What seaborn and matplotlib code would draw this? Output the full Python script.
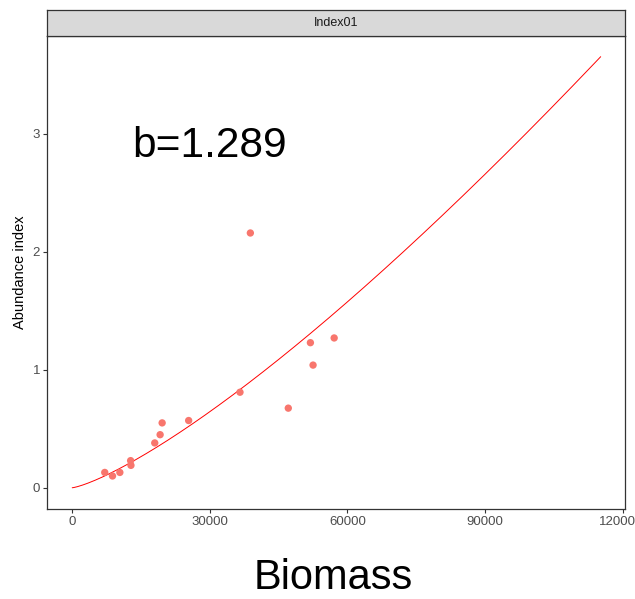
import numpy as np
import pandas as pd
import matplotlib
matplotlib.use("Agg")
import matplotlib.pyplot as plt
from matplotlib.transforms import ScaledTranslation
import seaborn as sns

# Observed survey points
biomass = [7090, 8780, 10380, 12730, 12800, 17990, 19160, 19600, 25380,
           36570, 38830, 47100, 51920, 52500, 57100]
abundance = [0.13, 0.10, 0.13, 0.23, 0.19, 0.38, 0.45, 0.55, 0.57,
             0.81, 2.16, 0.675, 1.23, 1.04, 1.27]

# Power-law fit: index = a * biomass^b
a_coef = 1.093e-6
b_coef = 1.289
x_max = 115200

x_ticks = [0, 30000, 60000, 90000, 120000]
x_ticklabels = ["0", "30000", "60000", "90000", "12000"]
y_ticks = [0, 1, 2, 3]
panel_label = "Index01"

pts = pd.DataFrame({"biomass": biomass, "abundance": abundance})
xfit = np.linspace(0, x_max, 300)
fit = pd.DataFrame({"biomass": xfit, "abundance": a_coef * xfit ** b_coef})

sns.set_theme(style="white")
plt.rcParams["font.family"] = ["Liberation Sans", "DejaVu Sans"]

fig = plt.figure(figsize=(6.35, 5.99), dpi=100)
W, H = 635, 599
left, right, bottom, top = 47, 625, 509, 36
ax = fig.add_axes([left / W, 1 - bottom / H, (right - left) / W, (bottom - top) / H])

sns.lineplot(data=fit, x="biomass", y="abundance", ax=ax, color="#FF0000",
             linewidth=0.7)
sns.scatterplot(data=pts, x="biomass", y="abundance", ax=ax, color="#F8766D",
                s=28, edgecolor="none", zorder=3)

ax.set_xlim(-5500, 120500)
ax.set_ylim(-0.18, 3.83)
ax.set_xticks(x_ticks)
ax.set_xticklabels(x_ticklabels)
ax.set_yticks(y_ticks)
ax.tick_params(axis="both", which="both", length=3, width=0.8, color="#333333",
               labelsize=9.5, labelcolor="#4D4D4D", pad=2, direction="out",
               bottom=True, left=True)
# the last x label sits a little left of its tick so it stays inside the figure
last = ax.get_xticklabels()[-1]
last.set_transform(last.get_transform() + ScaledTranslation(-5 / 100, 0, fig.dpi_scale_trans))

for sp in ax.spines.values():
    sp.set_color("#333333")
    sp.set_linewidth(0.9)
ax.set_xlabel("")
ax.set_ylabel("Abundance index", fontsize=10.5, color="black", labelpad=4)

ax.text(13000, 2.9, f"b={b_coef}", fontsize=30.5, color="black", va="center",
        ha="left")

# Facet strip
strip_top = 10
sax = fig.add_axes([left / W, 1 - top / H, (right - left) / W, (top - strip_top) / H])
sax.set_xticks([])
sax.set_yticks([])
sax.set_facecolor("#D9D9D9")
for sp in sax.spines.values():
    sp.set_color("#333333")
    sp.set_linewidth(0.9)
sax.text(0.5, 0.5, panel_label, ha="center", va="center", fontsize=9,
         color="#1A1A1A", transform=sax.transAxes)

fig.text(333 / W, 1 - 578 / H, "Biomass", ha="center", va="center", fontsize=30,
         color="black")

fig.savefig("out.png", dpi=100)
